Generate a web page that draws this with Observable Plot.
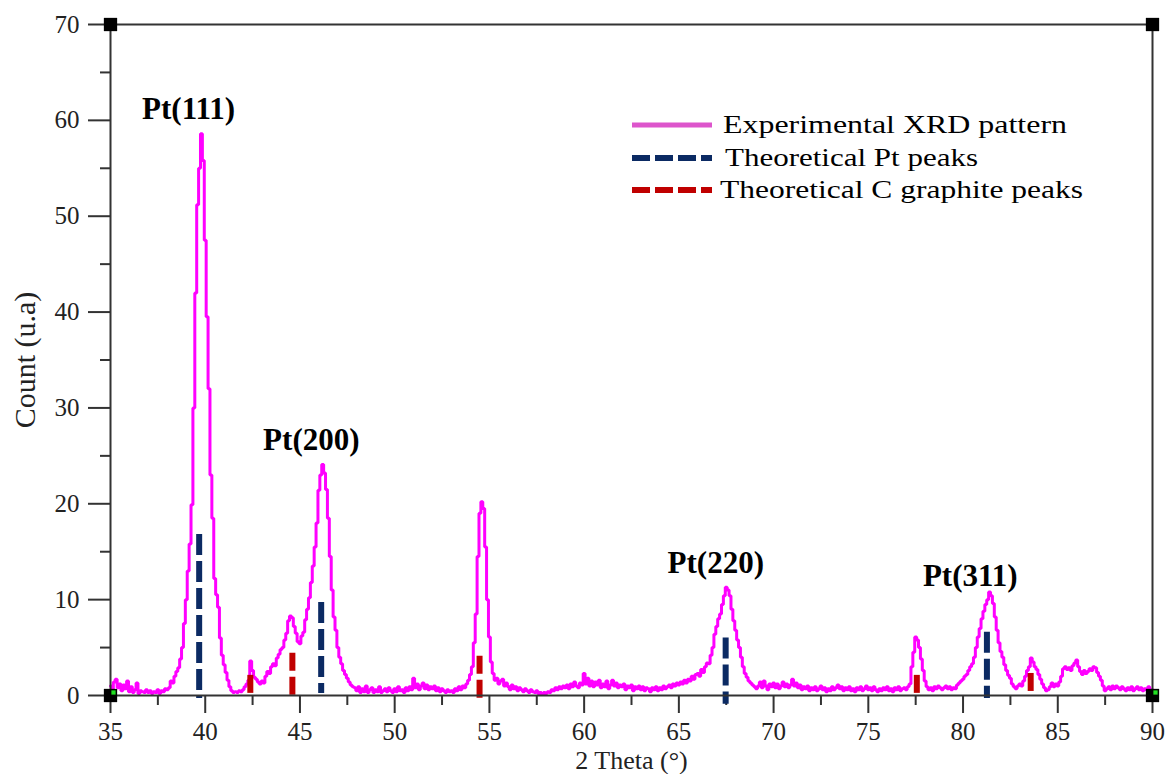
<!DOCTYPE html>
<html>
<head>
<meta charset="utf-8">
<script src="https://cdn.jsdelivr.net/npm/d3@7"></script>
<script src="https://cdn.jsdelivr.net/npm/@observablehq/plot@0.6"></script>
<style>
  html, body { margin: 0; padding: 0; background: #fff; }
  #chart svg { display: block; }
</style>
</head>
<body>
<div id="chart"></div>
<script>
// ---------- data ----------
const thetaStart = 35;
const thetaStep = 0.1;
// experimental counts, one row per degree (35.0 ... 35.9, 36.0 ...)
const counts = [
  1.0, 0.6, 1.4, 1.7, 0.8, 1.2, 0.5, 1.1, 0.7, 1.5,
  0.4, 0.9, 0.3, 0.6, 1.3, 0.2, 0.5, 0.4, 0.3, 0.6,
  0.3, 0.5, 0.2, 0.4, 0.3, 0.6, 0.2, 0.5, 0.4, 0.7,
  0.6, 0.8, 1.5, 1.3, 2.0, 2.5, 2.9, 3.8, 5.0, 7.5,
  10.0, 13.0, 15.8, 19.9, 30.0, 42.0, 51.2, 55.0, 58.6, 55.8,
  47.5, 39.5, 32.0, 23.0, 18.5, 12.2, 10.5, 9.2, 6.0, 4.2,
  3.2, 2.4, 1.6, 0.9, 0.5, 0.3, 0.4, 0.3, 0.5, 0.4,
  0.6, 0.9, 1.2, 1.6, 3.6, 2.6, 1.9, 1.7, 1.4, 1.2,
  1.5, 1.3, 2.0, 2.5, 2.3, 3.0, 3.3, 3.1, 3.9, 4.3,
  4.8, 5.0, 5.8, 6.5, 7.8, 8.3, 8.1, 7.2, 6.5, 5.6,
  5.4, 6.2, 6.6, 7.9, 9.0, 10.2, 11.8, 13.5, 15.5, 18.0,
  21.4, 23.0, 24.1, 23.2, 21.5, 18.5, 14.5, 11.0, 8.2, 6.8,
  5.0, 4.0, 3.3, 2.6, 2.2, 1.8, 1.4, 1.1, 0.9, 0.8,
  0.5, 0.9, 0.3, 0.7, 0.4, 1.0, 0.3, 0.6, 0.8, 0.3,
  0.6, 0.4, 0.9, 0.3, 0.5, 0.7, 0.4, 0.8, 0.5, 0.3,
  0.7, 0.4, 0.9, 0.5, 0.6, 0.3, 0.8, 0.5, 0.9, 0.6,
  1.8, 0.8, 1.2, 0.6, 1.0, 1.3, 0.7, 1.1, 0.6, 0.9,
  0.7, 1.0, 0.5, 0.8, 0.4, 0.7, 0.5, 0.3, 0.6, 0.4,
  0.5, 0.3, 0.7, 0.5, 0.9, 0.6, 1.0, 0.8, 1.2, 1.6,
  2.2, 3.0, 5.5, 8.5, 14.5, 19.0, 20.2, 19.5, 15.5, 10.0,
  6.1, 3.5, 2.3, 1.6, 1.8, 1.2, 1.5, 1.7, 1.0, 1.3,
  0.9, 0.6, 1.1, 0.7, 0.9, 0.5, 0.8, 0.6, 0.4, 0.7,
  0.5, 0.3, 0.6, 0.4, 0.3, 0.5, 0.2, 0.3, 0.2, 0.3,
  0.2, 0.4, 0.3, 0.6, 0.5, 0.8, 0.6, 0.9, 0.7, 1.0,
  0.8, 1.1, 0.7, 1.2, 0.9, 1.4, 1.0, 0.8, 1.3, 1.1,
  2.3, 1.2, 1.8, 1.0, 1.5, 0.9, 1.4, 1.1, 1.6, 0.8,
  1.2, 0.9, 1.5, 0.7, 1.1, 1.6, 1.0, 1.3, 0.8, 1.1,
  0.9, 1.2, 0.6, 1.0, 0.8, 1.1, 0.5, 0.9, 0.7, 1.0,
  0.6, 0.9, 0.5, 0.8, 0.7, 0.4, 0.8, 0.6, 0.9, 0.5,
  0.8, 0.6, 1.0, 0.7, 0.9, 1.1, 0.8, 1.2, 1.0, 1.3,
  1.1, 1.4, 1.2, 1.6, 1.3, 1.7, 1.5, 2.0, 1.7, 2.2,
  2.3, 2.0, 2.7, 2.4, 3.0, 3.4, 3.3, 4.2, 5.0, 6.4,
  7.2, 8.0, 8.5, 9.5, 10.4, 11.3, 11.0, 10.4, 9.0, 7.8,
  6.8, 5.8, 5.0, 4.0, 3.0, 2.3, 1.9, 1.5, 1.3, 1.1,
  0.9, 0.7, 1.0, 1.4, 0.8, 1.5, 1.0, 0.6, 1.2, 0.9,
  1.3, 0.8, 1.2, 0.7, 1.0, 1.4, 0.9, 1.2, 0.8, 1.1,
  1.7, 1.0, 1.3, 0.8, 1.1, 0.6, 0.9, 0.7, 1.0, 0.5,
  0.8, 0.6, 0.9, 0.5, 0.7, 1.0, 0.6, 0.8, 0.4, 0.7,
  0.5, 0.9, 0.6, 0.8, 1.1, 0.7, 0.9, 0.5, 0.8, 0.6,
  0.9, 0.5, 0.7, 0.4, 0.8, 0.6, 0.9, 0.5, 0.7, 1.0,
  0.6, 0.8, 0.5, 0.9, 0.6, 0.4, 0.7, 0.5, 0.8, 0.6,
  0.9, 0.5, 0.7, 0.4, 0.8, 0.6, 0.9, 0.5, 0.7, 0.8,
  0.6, 0.9, 1.2, 3.0, 4.5, 6.1, 5.8, 5.0, 3.8, 2.6,
  1.5, 0.9, 0.6, 0.8, 0.5, 0.9, 0.7, 1.0, 0.8, 0.6,
  0.8, 1.0, 0.7, 0.9, 0.6, 0.8, 0.7, 1.1, 1.3, 1.5,
  1.7, 2.0, 2.2, 2.6, 3.0, 3.3, 4.0, 5.0, 6.1, 7.0,
  8.0, 8.8, 9.5, 10.0, 10.8, 10.4, 9.6, 8.2, 6.8, 5.5,
  4.6, 4.0, 3.2, 2.6, 2.1, 1.8, 1.2, 0.9, 0.7, 1.0,
  1.2, 1.0, 1.5, 2.0, 2.6, 3.0, 3.9, 3.5, 3.0, 2.7,
  2.2, 1.7, 1.2, 0.8, 0.5, 0.6, 0.9, 1.3, 0.9, 1.2,
  1.0, 1.4, 2.0, 2.8, 3.0, 2.7, 2.9, 2.6, 3.1, 3.4,
  3.7, 3.0, 2.5, 2.2, 2.6, 2.3, 2.5, 2.8, 2.6, 3.0,
  2.9, 2.4, 2.0, 1.6, 1.0, 0.5, 0.7, 0.9, 0.6, 1.0,
  0.7, 1.0, 0.8, 0.6, 0.9, 0.7, 0.5, 0.8, 0.6, 0.9,
  0.5, 0.7, 0.9, 0.6, 0.8, 0.5, 0.7, 0.6, 0.9, 0.5,
  0.6
];

// theoretical reference peaks (as drawn)
const ptPeakTheta = [39.68, 46.12, 67.47, 81.26];
const ptPeakTop = [16.8, 9.7, 6.0, 6.6];
const ptPeakBase = [-0.3, 0.2, -0.9, -0.3];

const cPeakTheta = [42.38, 44.6, 54.48, 77.56, 83.57];
const cPeakTop = [2.1, 4.4, 4.1, 2.1, 2.3];
const cPeakBase = [0.2, 0.0, -0.3, 0.2, 0.4];

// peak annotations
const peakLabels = ["Pt(111)", "Pt(200)", "Pt(220)", "Pt(311)"];
const peakLabelTheta = [39.12, 45.6, 66.95, 80.38];
const peakLabelCount = [61.2, 26.6, 13.8, 12.5];

// axes
const xDomain = [35, 90];
const yDomain = [0, 70];
const xMajorTicks = [35, 40, 45, 50, 55, 60, 65, 70, 75, 80, 85, 90];
const xMinorTicks = [37.5, 42.5, 47.5, 52.5, 57.5, 62.5, 67.5, 72.5, 77.5, 82.5, 87.5];
const yMajorTicks = [0, 10, 20, 30, 40, 50, 60, 70];
const yMinorTicks = [5, 15, 25, 35, 45, 55, 65];
const xLabel = "2 Theta (°)";
const yLabel = "Count (u.a)";

const legendLabels = ["Experimental XRD pattern", "Theoretical Pt peaks", "Theoretical C graphite peaks"];

// ---------- build tables ----------
const pattern = counts.map((c, i) => ({theta: +(thetaStart + i * thetaStep).toFixed(2), count: c}));
const ptPeaks = ptPeakTheta.map((t, i) => ({theta: t, top: ptPeakTop[i], base: ptPeakBase[i]}));
const cPeaks = cPeakTheta.map((t, i) => ({theta: t, top: cPeakTop[i], base: cPeakBase[i]}));
const annotations = peakLabels.map((l, i) => ({label: l, theta: peakLabelTheta[i], count: peakLabelCount[i]}));
const corners = [
  {theta: xDomain[0], count: yDomain[0], green: true},
  {theta: xDomain[0], count: yDomain[1], green: false},
  {theta: xDomain[1], count: yDomain[1], green: false},
  {theta: xDomain[1], count: yDomain[0], green: true}
];

const FONT = "'Liberation Serif', 'Times New Roman', serif";
const NAVY = "#0b2a63";
const RED = "#c00000";
const MAGENTA = "#ff00ff";
const AXIS = "#333";

const chart = Plot.plot({
  width: 1169,
  height: 774,
  marginLeft: 110,
  marginRight: 17,
  marginTop: 24,
  marginBottom: 79,
  style: {fontFamily: FONT, background: "#fff", color: "#222"},
  x: {domain: xDomain, label: null},
  y: {domain: yDomain, label: null},
  marks: [
    // minor ticks
    Plot.axisX({ticks: xMinorTicks, tickSize: 10, text: null, label: null, stroke: AXIS, strokeWidth: 2}),
    Plot.axisY({ticks: yMinorTicks, tickSize: 10, text: null, label: null, stroke: AXIS, strokeWidth: 2}),
    // major ticks
    Plot.axisX({ticks: xMajorTicks, tickSize: 18, tickPadding: 9, fontSize: 25, label: null, stroke: AXIS, strokeWidth: 2, fill: "#222"}),
    Plot.axisY({ticks: yMajorTicks, tickSize: 22, tickPadding: 9, fontSize: 25, label: null, stroke: AXIS, strokeWidth: 2, fill: "#222"}),
    // axis titles
    Plot.text([xLabel], {frameAnchor: "bottom", lineAnchor: "middle", dy: 65, text: d => d, fontSize: 26, fill: "#222"}),
    Plot.text([yLabel], {frameAnchor: "left", lineAnchor: "middle", textAnchor: "middle", dx: -85, rotate: -90, text: d => d, fontSize: 30, fill: "#222"}),
    // experimental pattern
    Plot.line(pattern, {x: "theta", y: "count", curve: "step", stroke: MAGENTA, strokeWidth: 3, strokeLinejoin: "miter"}),
    // theoretical peaks
    Plot.ruleX(ptPeaks, {x: "theta", y1: "top", y2: "base", stroke: NAVY, strokeWidth: 6, strokeDasharray: "21,6"}),
    Plot.ruleX(cPeaks, {x: "theta", y1: "top", y2: "base", stroke: RED, strokeWidth: 6, strokeDasharray: "18,6"}),
    // frame
    Plot.frame({stroke: AXIS, strokeWidth: 2}),
    // corner markers
    Plot.dot(corners, {x: "theta", y: "count", symbol: "square", r: 7.5, fill: "#000"}),
    Plot.dot(corners.filter(d => d.green), {x: "theta", y: "count", symbol: "square", r: 2.4, fill: "#22e022", dx: 3, dy: -3}),
    // annotations
    Plot.text(annotations, {x: "theta", y: "count", text: "label", fontSize: 31, fontWeight: "bold", fill: "#000"})
  ]
});

document.getElementById("chart").appendChild(chart);

// ---------- legend (inside plot, top-right) ----------
const svg = d3.select(chart);
const legend = svg.append("g")
  .attr("font-family", FONT).attr("font-size", 26).attr("fill", "#000")
  .attr("text-anchor", "start");
const legendRows = [
  {y: 125, stroke: "#dd55cc", dash: null, width: 5, tx: 723, tw: 344},
  {y: 158, stroke: NAVY, dash: "18,5", width: 6, tx: 725, tw: 253},
  {y: 190, stroke: RED, dash: "18,5", width: 6, tx: 720, tw: 363}
];
legendRows.forEach((r, i) => {
  legend.append("line")
    .attr("x1", 632).attr("x2", 712).attr("y1", r.y).attr("y2", r.y)
    .attr("stroke", r.stroke).attr("stroke-width", r.width)
    .attr("stroke-dasharray", r.dash);
  legend.append("text")
    .attr("x", r.tx).attr("y", r.y + 8)
    .attr("text-anchor", "start")
    .attr("textLength", r.tw).attr("lengthAdjust", "spacingAndGlyphs")
    .text(legendLabels[i]);
});
</script>
</body>
</html>
